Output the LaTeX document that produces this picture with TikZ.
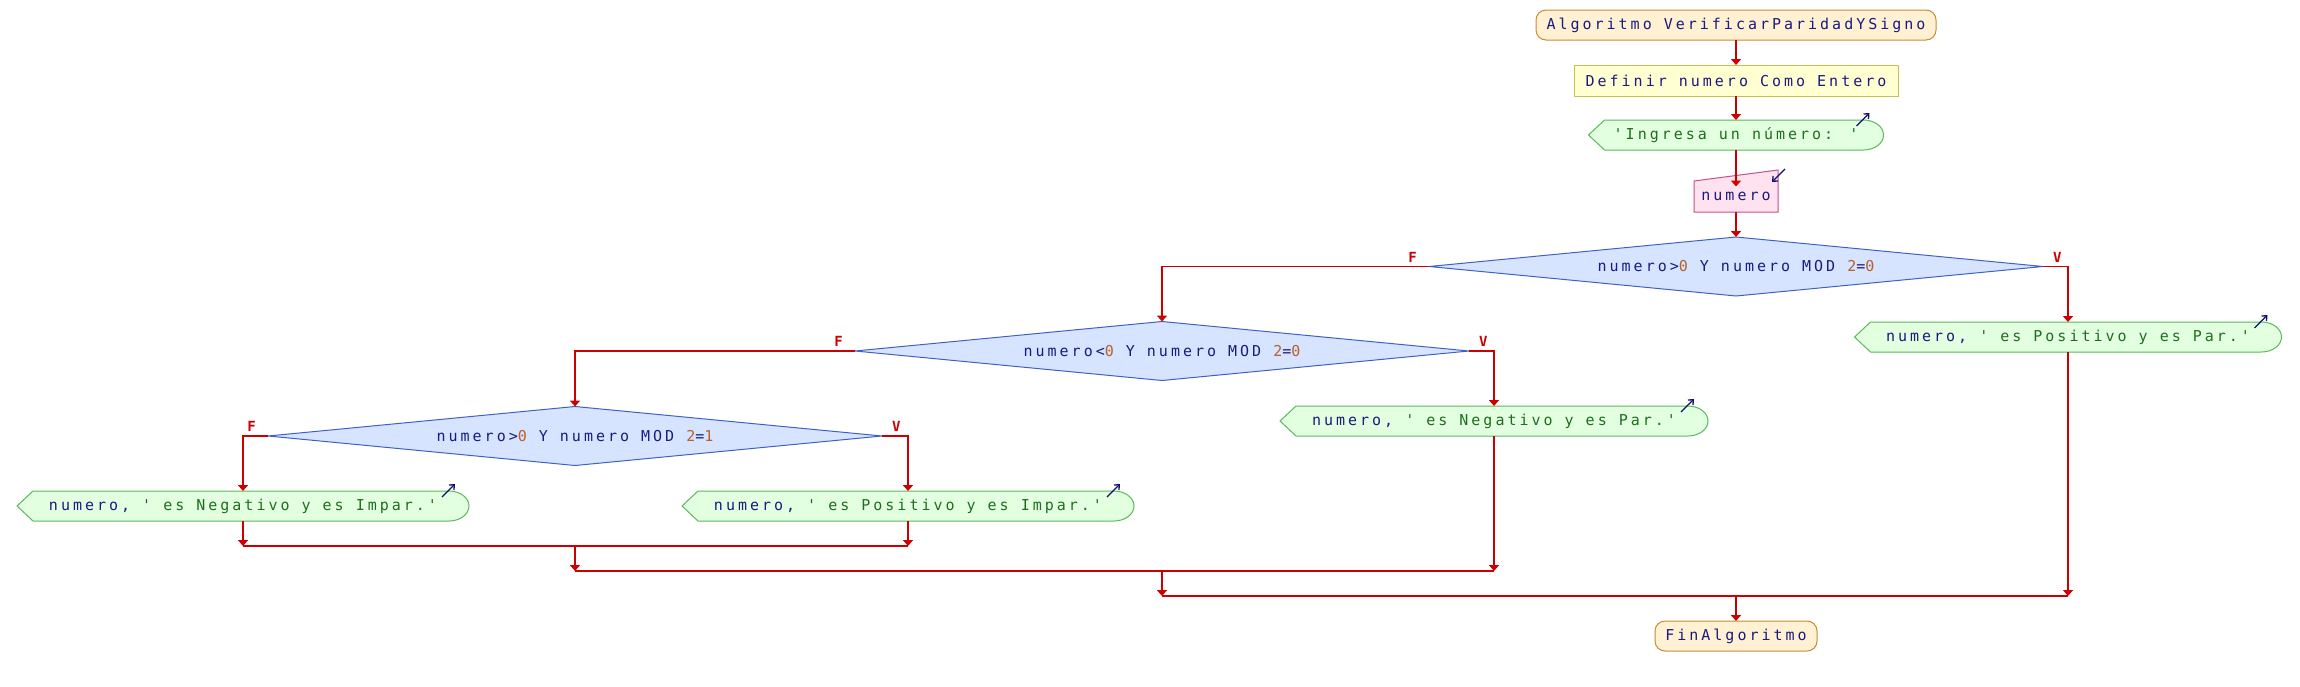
\documentclass[tikz,border=0pt]{standalone}
\usepackage{fontspec}
\usepackage{tikz}
\usetikzlibrary{arrows.meta,positioning,shapes.geometric,backgrounds}
\newfontfamily\psfont[LetterSpace=20,Ligatures=TeXOff]{DejaVu Sans Mono}
\newfontfamily\etfont[Ligatures=TeXOff]{DejaVu Sans Mono}
\definecolor{linea}{HTML}{CC0000}
\definecolor{ctexto}{HTML}{1A1A80}
\definecolor{ccadena}{HTML}{1E6E1E}
\definecolor{cnumero}{HTML}{B8602A}
\definecolor{cicono}{HTML}{101070}
\definecolor{fterm}{HTML}{FFF1D2}
\definecolor{bterm}{HTML}{C98A35}
\definecolor{fproc}{HTML}{FFFFD2}
\definecolor{bproc}{HTML}{C8C050}
\definecolor{fsal}{HTML}{E2FFE0}
\definecolor{bsal}{HTML}{5CB85C}
\definecolor{flect}{HTML}{FFE2F0}
\definecolor{blect}{HTML}{C4508C}
\definecolor{fdec}{HTML}{D6E4FF}
\definecolor{bdec}{HTML}{4060C8}
\newcommand\cnum[1]{\textcolor{cnumero}{#1}}
\newcommand\cstr[1]{\textcolor{ccadena}{#1}}
\tikzset{%
   base/.style={
      inner sep=0pt,
      outer sep=0pt,
      font=\psfont\fontsize{15}{18}\selectfont,
      text=ctexto,
      minimum height=30pt
   },
   terminal/.style={
      base,
      draw=bterm,
      fill=fterm,
      line width=1pt,
      rounded corners=10pt
   },
   proceso/.style={
      base,
      draw=bproc,
      fill=fproc,
      line width=1pt,
      minimum height=31pt
   },
   salida/.style={
      base
   },
   lectura/.style={
      base,
      minimum height=31pt
   },
   decision/.style={
      base,
      diamond,
      aspect=10,
      draw=bdec,
      fill=fdec,
      line width=1pt,
      minimum width=614pt,
      minimum height=59pt
   },
   flecha/.style={
      draw=linea,
      line width=1.7pt,
      -{Triangle[width=10pt,length=6pt]}
   },
   union/.style={
      draw=linea,
      line width=1.7pt
   },
   etiq/.style={
      inner sep=0pt,
      text=linea,
      font=\etfont\bfseries\fontsize{14}{16}\selectfont
   },
   borde salida/.style={
      draw=bsal,
      fill=fsal,
      line width=1pt
   },
   borde lectura/.style={
      draw=blect,
      fill=flect,
      line width=1pt
   },
   icono/.style={
      draw=cicono,
      line width=1.3pt,
      -{Straight Barb[length=4pt,width=7pt]}
   },
}

\begin{document}
\begin{tikzpicture}[x=1pt, y=1pt]
      \useasboundingbox (0,0) rectangle (2300,-686);
      \node[terminal, minimum width=400pt] (inicio) at (1736,-25) {Algoritmo VerificarParidadYSigno};
      \node[proceso, minimum width=324pt, below=25pt of inicio] (definir) {Definir numero Como Entero};
      \node[salida, minimum width=295pt, below=24pt of definir] (ingresa) {\cstr{'Ingresa un número: '}};
      \node[lectura, minimum width=84pt, below=31pt of ingresa] (leer) {numero};
      \node[decision, below=25pt of leer] (d1) {numero>\cnum{0} Y numero MOD \cnum{2}=\cnum{0}};
      \node[salida, minimum width=427pt] (o1) at (2068,-337) {numero, \cstr{' es Positivo y es Par.'}};
      \node[decision] (d2) at (1162,-351) {numero<\cnum{0} Y numero MOD \cnum{2}=\cnum{0}};
      \node[salida, minimum width=428pt] (o2) at (1494,-421) {numero, \cstr{' es Negativo y es Par.'}};
      \node[decision] (d3) at (575,-436) {numero>\cnum{0} Y numero MOD \cnum{2}=\cnum{1}};
      \node[salida, minimum width=452pt] (o3) at (908,-506) {numero, \cstr{' es Positivo y es Impar.'}};
      \node[salida, minimum width=452pt] (o4) at (243,-506) {numero, \cstr{' es Negativo y es Impar.'}};
      \node[terminal, minimum width=162pt] (fin) at (1736,-636) {FinAlgoritmo};
      \coordinate (j3) at (575,-546);
      \coordinate (j2) at (1162,-571);
      \coordinate (j1) at (1736,-596);
      \node[etiq, above left=4pt and 12pt of d1.west] (f1) {F};
      \node[etiq, above right=4pt and 10pt of d1.east] (v1) {V};
      \node[etiq, above left=4pt and 12pt of d2.west] (f2) {F};
      \node[etiq, above right=4pt and 10pt of d2.east] (v2) {V};
      \node[etiq, above left=4pt and 12pt of d3.west] (f3) {F};
      \node[etiq, above right=4pt and 10pt of d3.east] (v3) {V};
      \begin{scope}[on background layer]
         \foreach \n in {ingresa,o1,o2,o3,o4}{
            \filldraw[borde salida] (\n.west) -- ([xshift=16pt]\n.north west)
               -- ([xshift=-20pt]\n.north east)
               arc[start angle=90, end angle=-90, x radius=20pt, y radius=15pt]
               -- ([xshift=16pt]\n.south west) -- cycle;
            \draw[icono] ([xshift=-27pt, yshift=-6pt]\n.north east) -- ++(13,13);
         }
         \filldraw[borde lectura] (leer.south west) -- (leer.north west)
            -- ([yshift=11pt]leer.north east) -- (leer.south east) -- cycle;
         \draw[icono] ([xshift=7pt, yshift=12pt]leer.north east) -- ++(-13,-13);
      \end{scope}
      \path[flecha] (inicio) -- (definir);
      \path[flecha] (definir) -- (ingresa);
      \path[flecha, shorten >=-5.5pt] (ingresa.south) -- (leer.north);
      \path[flecha] (leer) -- (d1);
      \path[flecha] (d1.west) -| (d2.north);
      \path[flecha] (d1.east) -| (o1.north);
      \path[flecha] (d2.west) -| (d3.north);
      \path[flecha] (d2.east) -| (o2.north);
      \path[flecha] (d3.west) -| (o4.north);
      \path[flecha] (d3.east) -| (o3.north);
      \path[flecha] (o4.south) -- (o4.south |- j3);
      \path[flecha] (o3.south) -- (o3.south |- j3);
      \path[union] (o4.south |- j3) -- (o3.south |- j3);
      \path[flecha] (j3) -- (j3 |- j2);
      \path[flecha] (o2.south) -- (o2.south |- j2);
      \path[union] (j3 |- j2) -- (o2.south |- j2);
      \path[flecha] (j2) -- (j2 |- j1);
      \path[flecha] (o1.south) -- (o1.south |- j1);
      \path[union] (j2 |- j1) -- (o1.south |- j1);
      \path[flecha] (j1) -- (fin);
   \end{tikzpicture}
\end{document}
